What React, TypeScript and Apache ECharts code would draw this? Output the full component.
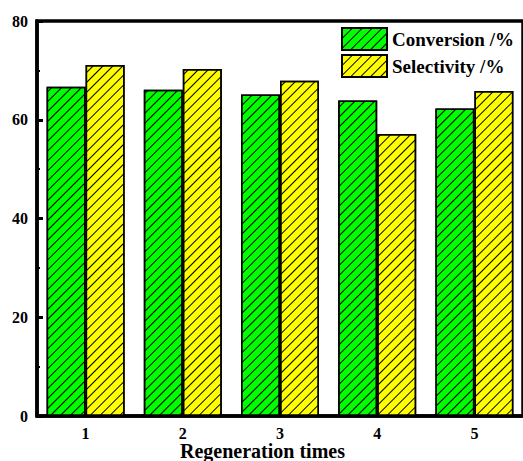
import React, { useEffect, useRef } from "react";
import * as echarts from "echarts";

const categories = ["1", "2", "3", "4", "5"];
const conversion = [66.7, 66.1, 65.1, 63.9, 62.3];
const selectivity = [71.1, 70.3, 67.9, 57.1, 65.8];
const yTicks = { min: 0, max: 80, interval: 20 };

const FONT = "'Times New Roman', 'Liberation Serif', serif";

export default function App() {
  const ref = useRef<HTMLDivElement>(null);
  useEffect(() => {
    if (!ref.current) return;
    const chart = echarts.init(ref.current, undefined, { renderer: "svg" });
    const decal = {
      symbol: "rect",
      symbolSize: 1,
      dashArrayX: [1, 0],
      dashArrayY: [1, 6],
      rotation: -Math.PI / 4,
      color: "#000",
    };
    chart.setOption({
      animation: false,
      grid: {
        left: 37,
        top: 21,
        bottom: 45,
        right: -5,
        show: true,
        borderColor: "#000",
        borderWidth: 3.5,
        backgroundColor: "transparent",
      },
      legend: {
        orient: "vertical",
        left: 341,
        top: 27,
        padding: 0,
        icon: "rect",
        itemWidth: 45,
        itemHeight: 22,
        itemGap: 3,
        textStyle: { fontFamily: FONT, fontWeight: "bold", fontSize: 19, color: "#000" },
        data: ["Conversion /%", "Selectivity /%"],
      },
      graphic: [
        {
          type: "text",
          left: 264 - 84,
          top: 441,
          style: {
            text: "Regeneration times",
            font: `bold 20px ${FONT}`,
            fill: "#000",
          },
        },
      ],
      xAxis: [
        {
          type: "category",
          data: categories,
          axisLine: { lineStyle: { color: "#000", width: 3.5 } },
          axisTick: { alignWithLabel: true, inside: true, length: 6, lineStyle: { width: 3, color: "#000" } },
          axisLabel: { fontFamily: FONT, fontWeight: "bold", fontSize: 16, color: "#000", margin: 9 },
        },
        {
          type: "category",
          data: categories,
          position: "bottom",
          axisLine: { show: false },
          axisTick: { inside: true, length: 3, lineStyle: { width: 2.5, color: "#000" } },
          axisLabel: { show: false },
        },
      ],
      yAxis: {
        type: "value",
        min: yTicks.min,
        max: yTicks.max,
        interval: yTicks.interval,
        splitLine: { show: false },
        axisLine: { show: true, lineStyle: { color: "#000", width: 3.5 } },
        axisTick: { show: true, inside: true, length: 6, lineStyle: { width: 3, color: "#000" } },
        minorTick: { show: true, splitNumber: 2, length: 3, lineStyle: { width: 2, color: "#000" } },
        axisLabel: { fontFamily: FONT, fontWeight: "bold", fontSize: 16, color: "#000", margin: 9 },
      },
      series: [
        {
          name: "Conversion /%",
          type: "bar",
          xAxisIndex: 0,
          data: conversion,
          barWidth: 39,
          barGap: "0%",
          itemStyle: { color: "#00FF00", borderColor: "#000", borderWidth: 1.5, decal },
        },
        {
          name: "Selectivity /%",
          type: "bar",
          xAxisIndex: 0,
          data: selectivity,
          barWidth: 39,
          barGap: "0%",
          itemStyle: { color: "#FFFF00", borderColor: "#000", borderWidth: 1.5, decal },
        },
      ],
    });
    return () => chart.dispose();
  }, []);
  return (
    <div
      ref={ref}
      style={{ position: "fixed", left: 0, top: 0, width: 523, height: 461, overflow: "hidden", background: "#fff" }}
    />
  );
}
